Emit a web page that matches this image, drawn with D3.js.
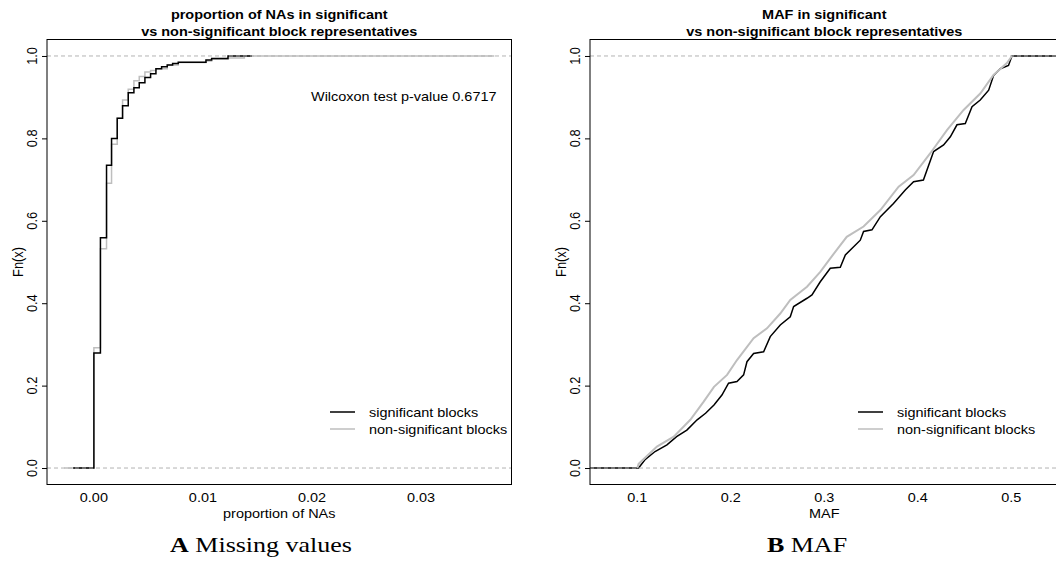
<!DOCTYPE html>
<html>
<head>
<meta charset="utf-8">
<script src="https://cdn.jsdelivr.net/npm/d3@7"></script>
<style>
body { margin: 0; background: #fff; }
text { font-family: "Liberation Sans", Arial, Helvetica, sans-serif; fill: #000; }
</style>
</head>
<body>
<div id="grafico"></div>
<script>
// ejes comunes
var yLim = [-0.04, 1.04];
var yTicks = [0, 0.2, 0.4, 0.6, 0.8, 1.0];
var yLab = "Fn(x)";
var leyenda = ["significant blocks", "non-significant blocks"];

// panel A: proporcion de NAs
var tituloA = ["proportion of NAs in significant", "vs non-significant block representatives"];
var xLabA = "proportion of NAs";
var subA = ["A", " Missing values"];
var xLimA = [-0.0043, 0.0383];
var xTicksA = [0, 0.01, 0.02, 0.03];
var wilcoxonA = "Wilcoxon test p-value 0.6717";
var naSigX = [0, 0.0006, 0.00116, 0.00162, 0.00214, 0.00263, 0.00315, 0.00367, 0.00416, 0.00468, 0.0052, 0.00569, 0.00621, 0.00673, 0.00722, 0.00774, 0.01028, 0.0108, 0.0123];
var naSigF = [0.279, 0.559, 0.735, 0.800, 0.849, 0.879, 0.911, 0.923, 0.935, 0.948, 0.957, 0.969, 0.974, 0.978, 0.982, 0.985, 0.990, 0.994, 1.0];
var naNonX = [0, 0.0006, 0.00116, 0.00162, 0.00214, 0.00263, 0.00315, 0.00367, 0.00416, 0.00468, 0.0052, 0.00569, 0.00673, 0.00774, 0.01028, 0.0108, 0.0123, 0.0138];
var naNonF = [0.292, 0.532, 0.691, 0.786, 0.849, 0.893, 0.919, 0.940, 0.950, 0.961, 0.965, 0.969, 0.978, 0.984, 0.988, 0.992, 0.995, 1.0];

// panel B: MAF
var tituloB = ["MAF in significant", "vs non-significant block representatives"];
var xLabB = "MAF";
var subB = ["B", " MAF"];
var xLimB = [0.0494, 0.5506];
var xTicksB = [0.1, 0.2, 0.3, 0.4, 0.5];
var mafSigX = [0.1014, 0.1086, 0.119, 0.1317, 0.142, 0.153, 0.164, 0.173, 0.182, 0.1905, 0.1976, 0.2066, 0.2137, 0.2173, 0.2244, 0.2351, 0.2422, 0.2529, 0.2636, 0.2672, 0.2815, 0.2868, 0.2957, 0.3064, 0.3171, 0.3225, 0.3385, 0.342, 0.351, 0.360, 0.374, 0.3866, 0.3955, 0.406, 0.4169, 0.4276, 0.4348, 0.4419, 0.4508, 0.458, 0.4668, 0.4758, 0.4811, 0.4882, 0.497, 0.5007];
var mafSigF = [0, 0.021, 0.040, 0.056, 0.076, 0.092, 0.117, 0.133, 0.153, 0.177, 0.206, 0.210, 0.226, 0.258, 0.278, 0.282, 0.319, 0.347, 0.367, 0.392, 0.412, 0.420, 0.452, 0.485, 0.487, 0.517, 0.553, 0.574, 0.578, 0.610, 0.642, 0.675, 0.695, 0.699, 0.768, 0.784, 0.804, 0.833, 0.836, 0.877, 0.893, 0.917, 0.953, 0.969, 0.977, 1.0];
var mafNonX = [0.1, 0.1014, 0.121, 0.139, 0.1567, 0.171, 0.182, 0.196, 0.2066, 0.2244, 0.2387, 0.2529, 0.2636, 0.2815, 0.2957, 0.3064, 0.324, 0.342, 0.360, 0.3795, 0.3955, 0.4134, 0.4312, 0.449, 0.4668, 0.481, 0.4953, 0.5007];
var mafNonF = [0, 0.01, 0.052, 0.076, 0.117, 0.161, 0.197, 0.226, 0.262, 0.315, 0.339, 0.375, 0.408, 0.440, 0.476, 0.509, 0.561, 0.586, 0.626, 0.683, 0.711, 0.764, 0.820, 0.869, 0.909, 0.954, 0.983, 1.0];

var ancho = 1056, alto = 568;
var arriba = 39.5, abajo = 484.5;
var estira = 1.13;   // la figura original esta estirada en horizontal
var letra = 12.8;
var negro = "#000", gris = "#bebebe", gris01 = "#b3b3b3";

var svg = d3.select("#grafico").append("svg")
    .attr("width", ancho)
    .attr("height", alto);

var y = d3.scaleLinear().domain(yLim).range([abajo, arriba]);

//texto con el estiramiento horizontal
function texto(g, x, yy, s, anchor) {
    return g.append("text")
        .attr("transform", "translate(" + x + "," + yy + ") scale(" + estira + ",1)")
        .attr("text-anchor", anchor)
        .style("font-size", letra + "px")
        .text(s);
}

function pares(xs, fs) {
    return xs.map(function (d, i) { return [d, fs[i]]; });
}

function panel(o) {
    var x = d3.scaleLinear().domain(o.xLim).range([o.izq, o.der]);
    var centro = (o.izq + o.der) / 2;
    var g = svg.append("g");

    svg.append("defs").append("clipPath").attr("id", o.id)
        .append("rect").attr("x", o.izq).attr("y", arriba)
        .attr("width", o.der - o.izq).attr("height", abajo - arriba);
    var cuerpo = g.append("g").attr("clip-path", "url(#" + o.id + ")");

    var linea = d3.line()
        .x(function (d) { return x(d[0]); })
        .y(function (d) { return y(d[1]); })
        .curve(o.curva);

    // curvas en el orden dado
    o.curvas.forEach(function (c) {
        var pts = [[c.desde, 0]].concat(pares(c.x, c.f)).concat([[c.hasta, 1]]);
        cuerpo.append("path")
            .attr("d", linea(pts))
            .attr("fill", "none")
            .attr("stroke", c.color)
            .attr("stroke-width", c.ancho);
    });

    // lineas 0 y 1 a trazos
    cuerpo.selectAll("line.h01").data([0, 1]).enter().append("line")
        .attr("x1", o.izq).attr("x2", o.der)
        .attr("y1", function (d) { return y(d); })
        .attr("y2", function (d) { return y(d); })
        .attr("stroke", gris01)
        .attr("stroke-dasharray", "4,3");

    // caja
    g.append("rect")
        .attr("x", o.izq).attr("y", arriba)
        .attr("width", o.der - o.izq).attr("height", abajo - arriba)
        .attr("fill", "none").attr("stroke", "#000").attr("stroke-width", 1);

    // eje y
    g.append("g")
        .attr("transform", "translate(" + o.izq + ",0)")
        .call(d3.axisLeft(y).tickValues(yTicks).tickSize(5).tickFormat(""))
        .call(function (a) { a.select(".domain").remove(); });
    g.selectAll("text.ytick").data(yTicks).enter().append("text")
        .attr("class", "ytick")
        .attr("transform", function (d) { return "translate(" + (o.izq - 10) + "," + y(d) + ") scale(" + estira + ",1) rotate(-90)"; })
        .attr("text-anchor", "middle")
        .style("font-size", letra + "px")
        .text(d3.format(".1f"));
    g.append("text")
        .attr("transform", "translate(" + (o.izq - 24.5) + "," + y(0.5) + ") scale(" + estira + ",1) rotate(-90)")
        .attr("text-anchor", "middle")
        .style("font-size", letra + "px")
        .text(yLab);

    // eje x
    o.xTicks.forEach(function (t) {
        texto(g, x(t), 501.5, o.fmt(t), "middle");
    });
    texto(g, centro, 518, o.xLab, "middle");

    // titulo
    texto(g, centro, 18.5, o.titulo[0], "middle").style("font-weight", "bold");
    texto(g, centro, 35.5, o.titulo[1], "middle").style("font-weight", "bold");

    // leyenda
    leyenda.forEach(function (s, i) {
        var ly = 412 + i * 17;
        g.append("line")
            .attr("x1", o.leyX).attr("x2", o.leyX + 25)
            .attr("y1", ly).attr("y2", ly)
            .attr("stroke", i == 0 ? negro : gris)
            .attr("stroke-width", 1.5);
        texto(g, o.leyX + 39, ly + 4.5, s, "start");
    });

    if (o.nota) {
        texto(g, 311, 100.5, o.nota, "start");
    }

    // subtitulo de la figura
    var sub = g.append("text")
        .attr("transform", "translate(" + o.subX + ",552) scale(1.3,1)")
        .attr("text-anchor", "middle")
        .style("font-family", "'Liberation Serif', 'Times New Roman', serif")
        .style("font-size", "20px");
    sub.append("tspan").style("font-weight", "bold").text(o.sub[0]);
    sub.append("tspan").text(o.sub[1]);
}

panel({
    id: "ventanaA", izq: 47, der: 511.5,
    xLim: xLimA, xTicks: xTicksA, fmt: d3.format(".2f"),
    titulo: tituloA, xLab: xLabA, sub: subA, subX: 261,
    leyX: 330, nota: wilcoxonA,
    curva: d3.curveStepAfter,
    curvas: [
        {x: naNonX, f: naNonF, desde: -0.00272, hasta: 0.03672, color: gris, ancho: 1.5},
        {x: naSigX, f: naSigF, desde: -0.0019, hasta: 0.0145, color: negro, ancho: 1.5}
    ]
});

panel({
    id: "ventanaB", izq: 590, der: 1058.6,
    xLim: xLimB, xTicks: xTicksB, fmt: d3.format(".1f"),
    titulo: tituloB, xLab: xLabB, sub: subB, subX: 807,
    leyX: 858, nota: null,
    curva: d3.curveLinear,
    curvas: [
        {x: mafSigX, f: mafSigF, desde: 0.0494, hasta: 0.5506, color: negro, ancho: 1.5},
        {x: mafNonX, f: mafNonF, desde: 0.1, hasta: 0.5007, color: gris, ancho: 2}
    ]
});
</script>
</body>
</html>
